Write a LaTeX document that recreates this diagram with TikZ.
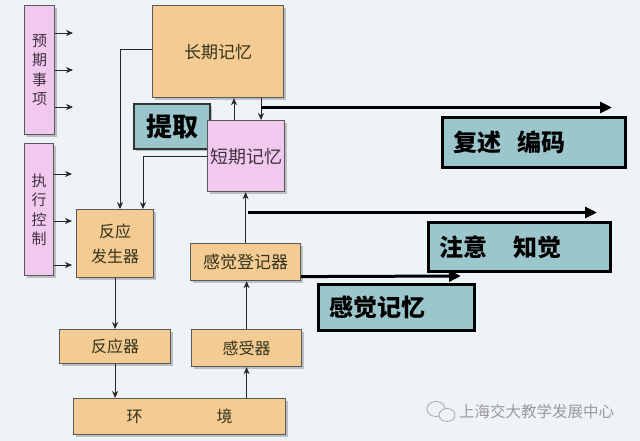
\documentclass[tikz,border=0pt]{standalone}
\usepackage{fontspec}
\newfontfamily\cjk{Noto Sans CJK SC}
\usetikzlibrary{arrows.meta,shadows}
\definecolor{bgc}{HTML}{EEF3F8}
\definecolor{wood}{HTML}{F4CB92}
\definecolor{pinkc}{HTML}{F1C9EF}
\definecolor{tealc}{HTML}{9BC6CC}
\definecolor{woodtxt}{HTML}{33331A}
\definecolor{pinktxt}{HTML}{403040}
\begin{document}
\begin{tikzpicture}[x=1pt,y=-1pt,
  every node/.style={inner sep=0pt},
  base/.style={draw=black!65, line width=1.2pt, anchor=north west,
    drop shadow={shadow xshift=2pt,shadow yshift=-2pt,opacity=0.45}},
  woodbox/.style={base, fill=wood, text=woodtxt, font=\cjk\fontsize{16}{25}\selectfont, align=center},
  pinkbox/.style={base, fill=pinkc, text=pinktxt, font=\cjk\fontsize{18}{19}\selectfont, align=center},
  vbox/.style={base, fill=pinkc, text=pinktxt, font=\cjk\fontsize{15}{19.5}\selectfont, align=center},
  tealbox/.style={draw=black, line width=3pt, fill=tealc, anchor=north west, text=black,
    font=\cjk\bfseries\fontsize{24}{28}\selectfont, align=left, inner xsep=11pt},
  arr/.style={draw=black!85, line width=0.8pt, -{Stealth[length=7pt,width=6pt]}},
  bigarr/.style={draw=black, line width=3pt, -{Triangle[length=12pt,width=11pt]}},
  wmark/.style={text=black!40, font=\cjk\fontsize{15.5}{18}\selectfont, anchor=west}
]
\fill[bgc] (0,0) rectangle (640,441);
\useasboundingbox (0,0) rectangle (640,441);

% pink vertical boxes
\node[vbox, minimum width=30, minimum height=129] (yq) at (24,5) {预\\期\\事\\项};
\node[vbox, minimum width=29, minimum height=132] (zx) at (24,143) {执\\行\\控\\制};

% main boxes
\node[woodbox, minimum width=131, minimum height=92, font=\cjk\fontsize{17}{20}\selectfont] (cq) at (152,5) {长期记忆};
\node[base, draw=black!80, line width=2pt, fill=tealc, minimum width=76, minimum height=45,
      font=\cjk\bfseries\fontsize{26}{28}\selectfont] (tq) at (133,103) {提取};
\node[pinkbox, minimum width=77, minimum height=71, text depth=-6pt] (dq) at (207,120) {短期记忆};
\node[woodbox, minimum width=77, minimum height=68] (fy) at (76,209) {反应\\发生器};
\node[woodbox, minimum width=111, minimum height=34] (fyq) at (59,329) {反应器};
\node[woodbox, minimum width=212, minimum height=36] (hj) at (73,398) {环\hspace{74pt}境};
\node[woodbox, minimum width=110, minimum height=37] (gsq) at (191,329) {感受器};
\node[woodbox, minimum width=110, minimum height=37, font=\cjk\fontsize{17}{20}\selectfont] (gj) at (190,243) {感觉登记器};

% teal label boxes
\node[tealbox, text width=161, minimum height=50] (fs) at (441,116) {复述\hspace{16pt}编码};
\node[tealbox, text width=160, minimum height=49] (zy) at (427,221) {注意\hspace{26pt}知觉};
\node[tealbox, text width=134, minimum height=46] (gjj) at (317,283) {感觉记忆};

% free ends
\coordinate (a1) at (73,33);
\coordinate (a2) at (73,70);
\coordinate (a3) at (73,107);
\coordinate (a4) at (72,174);
\coordinate (a5) at (72,221);
\coordinate (a6) at (72,265);
\coordinate (b1) at (120,0);
\coordinate (b2) at (143,0);
\coordinate (b5) at (234,0);
\coordinate (b6) at (261,0);
\coordinate (t1s) at (261,107.5);
\coordinate (t1e) at (612,107.5);
\coordinate (t2s) at (248,212.5);
\coordinate (t2e) at (597,212.5);
\coordinate (t3e) at (461,276);

% small arrows from pink boxes
\foreach \c in {a1,a2,a3} \draw[arr] (yq.east |- \c) -- (\c);
\foreach \c in {a4,a5,a6} \draw[arr] (zx.east |- \c) -- (\c);

% connectors
\draw[arr] ([yshift=2pt]cq.west) -| (b1 |- fy.north);
\draw[arr] (dq.west) -| (b2 |- fy.north);
\draw[arr] (fy.south) -- (fy.south |- fyq.north);
\draw[arr] (fyq.south) -- (fyq.south |- hj.north);
\draw[arr] (hj.north -| gsq.south) -- (gsq.south);
\draw[arr] (gsq.north) -- (gsq.north |- gj.south);
\draw[arr] (gj.north) -- (gj.north |- dq.south);
\draw[arr] (b5 |- dq.north) -- (b5 |- cq.south);
\draw[arr] (b6 |- cq.south) -- (b6 |- dq.north);

% thick arrows
\draw[bigarr] (t1s) -- (t1e);
\draw[bigarr] (t2s) -- (t2e);
\draw[bigarr] ([yshift=-14.5pt]gj.east) -- (t3e);

% watermark
\draw[black!35, line width=0.8pt] (436,409) ellipse [x radius=9, y radius=7.5];
\draw[black!35, line width=0.8pt, fill=bgc] (447,415) ellipse [x radius=8, y radius=6.5];
\node[wmark] (wm) at (459,412) {上海交大教学发展中心};
\end{tikzpicture}
\end{document}
